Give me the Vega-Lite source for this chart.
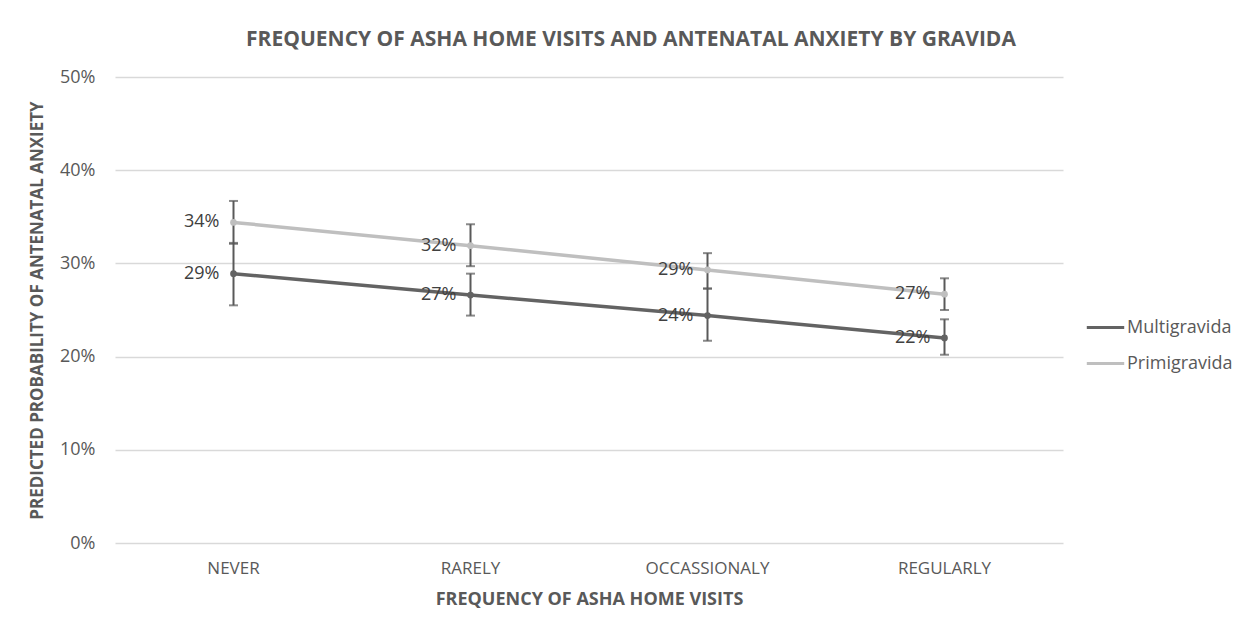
{
  "$schema": "https://vega.github.io/schema/vega-lite/v6.json",
  "width": 948,
  "height": 466,
  "autosize": {"type": "none"},
  "padding": {"left": 115, "top": 77, "right": 180, "bottom": 83},
  "background": "white",
  "title": {
    "text": "FREQUENCY OF ASHA HOME VISITS AND ANTENATAL ANXIETY BY GRAVIDA",
    "font": "Open Sans",
    "fontSize": 21,
    "fontWeight": "bold",
    "color": "#595959",
    "anchor": "middle",
    "dx": 42,
    "offset": 18
  },
  "data": {
    "values": [
      {"freq": "NEVER", "gravida": "Multigravida", "value": 0.289, "lo": 0.255, "hi": 0.322},
      {"freq": "RARELY", "gravida": "Multigravida", "value": 0.266, "lo": 0.244, "hi": 0.289},
      {"freq": "OCCASSIONALY", "gravida": "Multigravida", "value": 0.244, "lo": 0.217, "hi": 0.273},
      {"freq": "REGULARLY", "gravida": "Multigravida", "value": 0.220, "lo": 0.202, "hi": 0.240},
      {"freq": "NEVER", "gravida": "Primigravida", "value": 0.344, "lo": 0.321, "hi": 0.367},
      {"freq": "RARELY", "gravida": "Primigravida", "value": 0.319, "lo": 0.297, "hi": 0.342},
      {"freq": "OCCASSIONALY", "gravida": "Primigravida", "value": 0.293, "lo": 0.273, "hi": 0.311},
      {"freq": "REGULARLY", "gravida": "Primigravida", "value": 0.267, "lo": 0.250, "hi": 0.284}
    ]
  },
  "encoding": {
    "x": {
      "field": "freq",
      "type": "nominal",
      "sort": ["NEVER", "RARELY", "OCCASSIONALY", "REGULARLY"],
      "scale": {"paddingInner": 0, "paddingOuter": 0},
      "axis": {
        "title": "FREQUENCY OF ASHA HOME VISITS",
        "labelAngle": 0,
        "ticks": false,
        "domain": false,
        "labelPadding": 17,
        "labelFont": "Open Sans",
        "labelFontSize": 17,
        "labelColor": "#595959",
        "titleFont": "Open Sans",
        "titleFontSize": 18,
        "titleFontWeight": "bold",
        "titleColor": "#595959",
        "titlePadding": 14
      }
    }
  },
  "layer": [
    {
      "mark": {"type": "rule", "color": "#595959", "strokeWidth": 2},
      "encoding": {
        "y": {"field": "lo", "type": "quantitative"},
        "y2": {"field": "hi"}
      }
    },
    {
      "mark": {"type": "tick", "color": "#595959", "size": 9, "thickness": 2},
      "encoding": {"y": {"field": "lo", "type": "quantitative"}}
    },
    {
      "mark": {"type": "tick", "color": "#595959", "size": 9, "thickness": 2},
      "encoding": {"y": {"field": "hi", "type": "quantitative"}}
    },
    {
      "mark": {"type": "line", "strokeWidth": 3.5},
      "encoding": {
        "y": {
          "field": "value",
          "type": "quantitative",
          "scale": {"domain": [0, 0.5]},
          "axis": {
            "title": "PREDICTED PROBABILITY OF ANTENATAL ANXIETY",
            "format": ".0%",
            "values": [0, 0.1, 0.2, 0.3, 0.4, 0.5],
            "ticks": false,
            "domain": false,
            "labelPadding": 20,
            "labelFont": "Open Sans",
            "labelFontSize": 18,
            "labelColor": "#595959",
            "gridColor": "#d9d9d9",
            "gridWidth": 1.5,
            "titleFont": "Open Sans",
            "titleFontSize": 17,
            "titleFontWeight": "bold",
            "titleColor": "#595959",
            "titlePadding": 13
          }
        },
        "color": {
          "field": "gravida",
          "type": "nominal",
          "scale": {"domain": ["Multigravida", "Primigravida"], "range": ["#636363", "#bfbfbf"]},
          "legend": {
            "title": null,
            "orient": "none",
            "legendX": 970,
            "legendY": 230,
            "symbolType": "stroke",
            "symbolStrokeWidth": 3,
            "symbolSize": 1400,
            "labelFont": "Open Sans",
            "labelFontSize": 18,
            "labelColor": "#595959",
            "rowPadding": 6,
            "labelOffset": 1
          }
        }
      }
    },
    {
      "mark": {"type": "point", "filled": true, "size": 45, "opacity": 1},
      "encoding": {
        "y": {"field": "value", "type": "quantitative"},
        "color": {"field": "gravida", "type": "nominal", "legend": null}
      }
    },
    {
      "mark": {"type": "text", "align": "right", "baseline": "middle", "dx": -14, "font": "Open Sans", "fontSize": 18, "color": "#404040"},
      "encoding": {
        "y": {"field": "value", "type": "quantitative"},
        "text": {"field": "value", "type": "quantitative", "format": ".0%"}
      }
    }
  ],
  "config": {"view": {"stroke": null}}
}
